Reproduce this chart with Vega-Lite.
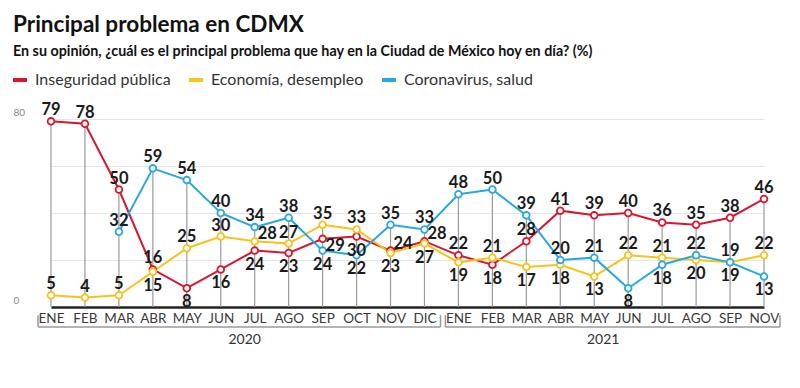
{
  "$schema": "https://vega.github.io/schema/vega-lite/v6.json",
  "width": 766,
  "height": 188,
  "autosize": {"type": "none"},
  "padding": {"left": 13, "top": 119, "right": 21, "bottom": 81},
  "background": "white",
  "title": {
    "text": "Principal problema en CDMX",
    "subtitle": "En su opinión, ¿cuál es el principal problema que hay en la Ciudad de México hoy en día? (%)",
    "anchor": "start",
    "frame": "group",
    "font": "Lato",
    "fontSize": 22.5,
    "fontWeight": "bold",
    "color": "#111111",
    "subtitleFont": "Lato",
    "subtitleFontSize": 14.3,
    "subtitleFontWeight": "bold",
    "subtitleColor": "#111111",
    "subtitlePadding": 8,
    "offset": 12
  },
  "datasets": {
    "encuesta": [
      {"mes": "2020-01", "Inseguridad pública": 79, "Economía, desempleo": 5},
      {"mes": "2020-02", "Inseguridad pública": 78, "Economía, desempleo": 4},
      {"mes": "2020-03", "Inseguridad pública": 50, "Economía, desempleo": 5, "Coronavirus, salud": 32},
      {"mes": "2020-04", "Inseguridad pública": 16, "Economía, desempleo": 15, "Coronavirus, salud": 59},
      {"mes": "2020-05", "Inseguridad pública": 8, "Economía, desempleo": 25, "Coronavirus, salud": 54},
      {"mes": "2020-06", "Inseguridad pública": 16, "Economía, desempleo": 30, "Coronavirus, salud": 40},
      {"mes": "2020-07", "Inseguridad pública": 24, "Economía, desempleo": 28, "Coronavirus, salud": 34},
      {"mes": "2020-08", "Inseguridad pública": 23, "Economía, desempleo": 27, "Coronavirus, salud": 38},
      {"mes": "2020-09", "Inseguridad pública": 29, "Economía, desempleo": 35, "Coronavirus, salud": 24},
      {"mes": "2020-10", "Inseguridad pública": 30, "Economía, desempleo": 33, "Coronavirus, salud": 22},
      {"mes": "2020-11", "Inseguridad pública": 24, "Economía, desempleo": 23, "Coronavirus, salud": 35},
      {"mes": "2020-12", "Inseguridad pública": 28, "Economía, desempleo": 27, "Coronavirus, salud": 33},
      {"mes": "2021-01", "Inseguridad pública": 22, "Economía, desempleo": 19, "Coronavirus, salud": 48},
      {"mes": "2021-02", "Inseguridad pública": 18, "Economía, desempleo": 21, "Coronavirus, salud": 50},
      {"mes": "2021-03", "Inseguridad pública": 28, "Economía, desempleo": 17, "Coronavirus, salud": 39},
      {"mes": "2021-04", "Inseguridad pública": 41, "Economía, desempleo": 18, "Coronavirus, salud": 20},
      {"mes": "2021-05", "Inseguridad pública": 39, "Economía, desempleo": 13, "Coronavirus, salud": 21},
      {"mes": "2021-06", "Inseguridad pública": 40, "Economía, desempleo": 22, "Coronavirus, salud": 8},
      {"mes": "2021-07", "Inseguridad pública": 36, "Economía, desempleo": 21, "Coronavirus, salud": 18},
      {"mes": "2021-08", "Inseguridad pública": 35, "Economía, desempleo": 20, "Coronavirus, salud": 22},
      {"mes": "2021-09", "Inseguridad pública": 38, "Economía, desempleo": 19, "Coronavirus, salud": 19},
      {"mes": "2021-11", "Inseguridad pública": 46, "Economía, desempleo": 22, "Coronavirus, salud": 13}
    ],
    "anios": [
      {"anio": "2020", "inicio": "2020-01", "fin": "2020-12"},
      {"anio": "2021", "inicio": "2021-01", "fin": "2021-11"}
    ]
  },
  "layer": [
    {
      "data": {"name": "encuesta"},
      "transform": [
        {"fold": ["Inseguridad pública", "Economía, desempleo", "Coronavirus, salud"], "as": ["serie", "valor"]},
        {"filter": "isValid(datum.valor)"},
        {"joinaggregate": [
          {"op": "max", "field": "valor", "as": "vmax"},
          {"op": "min", "field": "valor", "as": "vmin"},
          {"op": "count", "as": "n"}
        ], "groupby": ["mes"]},
        {"window": [{"op": "row_number", "as": "rango"}], "groupby": ["mes"], "sort": [{"field": "valor", "order": "ascending"}]},
        {"calculate": "datum.n == 3 && datum.rango == 1 && datum.valor >= 8 ? 'abajo' : (datum.n == 3 && datum.rango == 2 && datum.vmax - datum.valor <= 3 && datum.valor - datum.vmin > 5 ? 'abajo' : ((datum.n == 3 && datum.rango == 2 && (datum.vmax - datum.valor < 8 || (datum.valor - datum.vmin <= 1 && datum.vmax - datum.valor < 12))) ? (datum.valor - datum.vmin > 4 ? 'derecha_abajo' : 'derecha') : 'arriba'))", "as": "pos"}
      ],
      "encoding": {
        "x": {
          "field": "mes",
          "type": "ordinal",
          "scale": {
            "type": "point",
            "padding": 0,
            "domain": ["2020-01","2020-02","2020-03","2020-04","2020-05","2020-06","2020-07","2020-08","2020-09","2020-10","2020-11","2020-12","2021-01","2021-02","2021-03","2021-04","2021-05","2021-06","2021-07","2021-08","2021-09","2021-11"],
            "range": [38, 751]
          },
          "axis": {
            "title": null,
            "labelExpr": "['ENE','FEB','MAR','ABR','MAY','JUN','JUL','AGO','SEP','OCT','NOV','DIC'][toNumber(slice(datum.label, 5)) - 1]",
            "labelAngle": 0,
            "domainColor": "#222222",
            "domainWidth": 2.5,
            "ticks": false,
            "grid": false,
            "labelPadding": 4,
            "labelFont": "Lato",
            "labelFontSize": 13.5,
            "labelColor": "#3a3a3a"
          }
        }
      },
      "layer": [
        {
          "mark": {"type": "rule", "color": "#9a9a9a", "strokeWidth": 1.2},
          "encoding": {
            "y": {
              "aggregate": "max",
              "field": "valor",
              "type": "quantitative",
              "scale": {"domain": [0, 80]},
              "axis": {
                "title": null,
                "values": [0, 20, 40, 60, 80],
                "labelExpr": "datum.value == 0 || datum.value == 80 ? datum.label : ''",
                "domain": false,
                "ticks": false,
                "labelAlign": "left",
                "labelPadding": 0,
                "labelBaseline": "bottom",
                "labelOffset": -2,
                "labelColor": "#888888",
                "labelFont": "Lato",
                "labelFontSize": 10,
                "gridColor": "#e6e6e6",
                "gridWidth": 1
              }
            },
            "y2": {"datum": 0}
          }
        },
        {
          "mark": {"type": "line", "strokeWidth": 2},
          "encoding": {
            "y": {"field": "valor", "type": "quantitative"},
            "color": {
              "field": "serie",
              "type": "nominal",
              "scale": {
                "domain": ["Inseguridad pública", "Economía, desempleo", "Coronavirus, salud"],
                "range": ["#d7172f", "#f7c31a", "#29a8e0"]
              },
              "legend": {
                "title": null,
                "orient": "none",
                "legendX": -2,
                "legendY": -48,
                "direction": "horizontal",
                "symbolType": "stroke",
                "symbolSize": 196,
                "symbolStrokeWidth": 4,
                "labelFont": "Lato",
                "labelFontSize": 16,
                "labelColor": "#333333",
                "labelOffset": 6,
                "columnPadding": 10
              }
            }
          }
        },
        {
          "mark": {"type": "point", "filled": false, "fill": "white", "fillOpacity": 1, "size": 45, "strokeWidth": 1.8, "opacity": 1},
          "encoding": {
            "y": {"field": "valor", "type": "quantitative"},
            "color": {"field": "serie", "type": "nominal"}
          }
        },
        {
          "transform": [{"filter": "datum.pos == 'arriba'"}],
          "mark": {"type": "text", "font": "Lato", "fontSize": 16.5, "fontWeight": "bold", "color": "#1a1a1a", "baseline": "alphabetic", "dy": -6},
          "encoding": {
            "y": {"field": "valor", "type": "quantitative"},
            "text": {"field": "valor", "type": "quantitative"}
          }
        },
        {
          "transform": [{"filter": "datum.pos == 'abajo'"}],
          "mark": {"type": "text", "font": "Lato", "fontSize": 16.5, "fontWeight": "bold", "color": "#1a1a1a", "baseline": "top", "dy": 6},
          "encoding": {
            "y": {"field": "valor", "type": "quantitative"},
            "text": {"field": "valor", "type": "quantitative"}
          }
        },
        {
          "transform": [{"filter": "datum.pos == 'derecha'"}],
          "mark": {"type": "text", "font": "Lato", "fontSize": 16.5, "fontWeight": "bold", "color": "#1a1a1a", "baseline": "middle", "align": "left", "dx": 3, "dy": -7},
          "encoding": {
            "y": {"field": "valor", "type": "quantitative"},
            "text": {"field": "valor", "type": "quantitative"}
          }
        },
        {
          "transform": [{"filter": "datum.pos == 'derecha_abajo'"}],
          "mark": {"type": "text", "font": "Lato", "fontSize": 16.5, "fontWeight": "bold", "color": "#1a1a1a", "baseline": "middle", "align": "left", "dx": 3, "dy": 7},
          "encoding": {
            "y": {"field": "valor", "type": "quantitative"},
            "text": {"field": "valor", "type": "quantitative"}
          }
        }
      ]
    },
    {
      "data": {"name": "anios"},
      "encoding": {
        "x": {
          "field": "inicio",
          "type": "ordinal",
          "scale": {
            "type": "point",
            "padding": 0,
            "domain": ["2020-01","2020-02","2020-03","2020-04","2020-05","2020-06","2020-07","2020-08","2020-09","2020-10","2020-11","2020-12","2021-01","2021-02","2021-03","2021-04","2021-05","2021-06","2021-07","2021-08","2021-09","2021-11"],
            "range": [38, 751]
          }
        }
      },
      "layer": [
        {
          "mark": {"type": "rule", "color": "#9a9a9a", "strokeWidth": 1.5, "xOffset": -13, "x2Offset": 16},
          "encoding": {
            "x2": {"field": "fin"},
            "y": {"datum": -8.5, "type": "quantitative"}
          }
        },
        {
          "mark": {"type": "rule", "color": "#9a9a9a", "strokeWidth": 1.5, "xOffset": -13},
          "encoding": {
            "y": {"datum": -8.5, "type": "quantitative"},
            "y2": {"datum": -3.5}
          }
        },
        {
          "mark": {"type": "rule", "color": "#9a9a9a", "strokeWidth": 1.5, "xOffset": 16},
          "encoding": {
            "x": {"field": "fin", "type": "ordinal"},
            "y": {"datum": -8.5, "type": "quantitative"},
            "y2": {"datum": -3.5}
          }
        }
      ]
    },
    {
      "data": {"values": [{}]},
      "layer": [
        {
          "mark": {"type": "text", "text": "2020", "font": "Lato", "fontSize": 14, "color": "#333333", "baseline": "middle", "dx": -10},
          "encoding": {
            "x": {"datum": "2020-07", "type": "ordinal"},
            "y": {"datum": -14, "type": "quantitative"}
          }
        },
        {
          "mark": {"type": "text", "text": "2021", "font": "Lato", "fontSize": 14, "color": "#333333", "baseline": "middle", "dx": 9},
          "encoding": {
            "x": {"datum": "2021-05", "type": "ordinal"},
            "y": {"datum": -14, "type": "quantitative"}
          }
        }
      ]
    }
  ],
  "config": {
    "view": {"stroke": null}
  }
}
